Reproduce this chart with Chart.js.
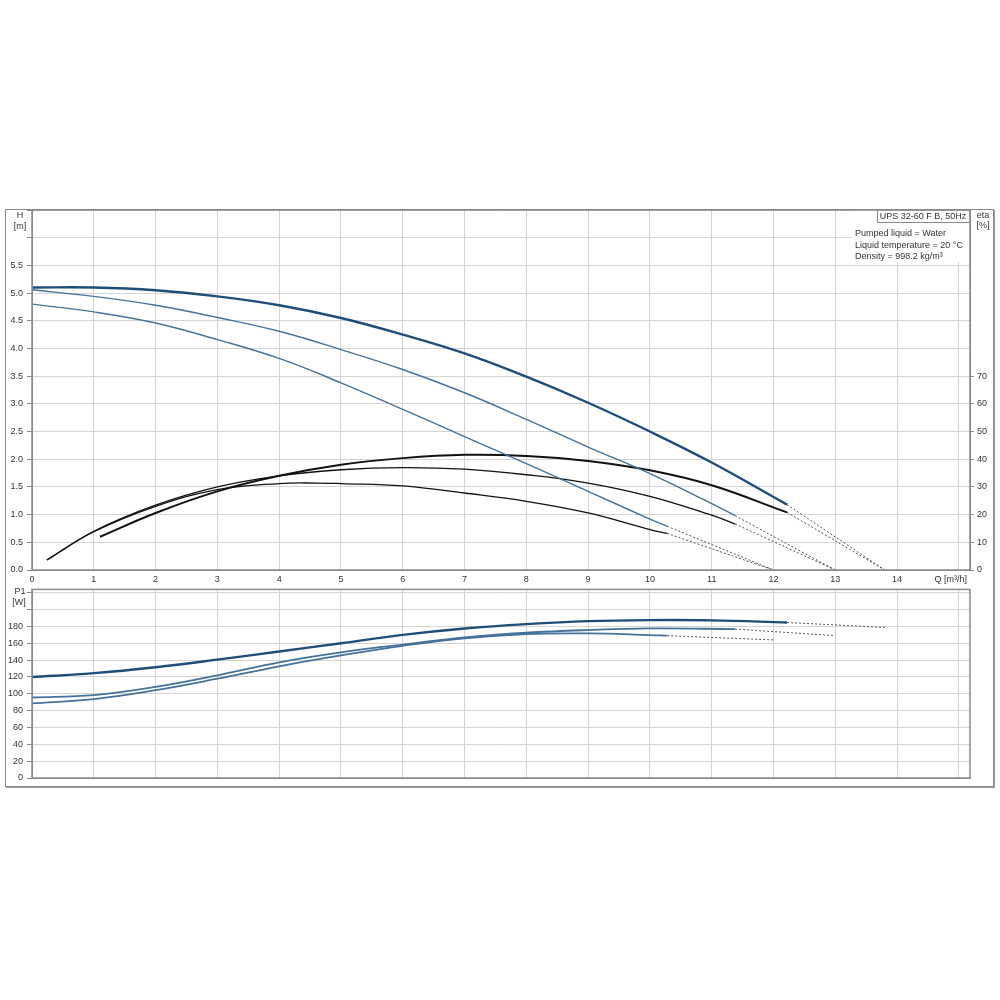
<!DOCTYPE html>
<html>
<head>
<meta charset="utf-8">
<script src="https://cdn.jsdelivr.net/npm/chart.js@4.4.0/dist/chart.umd.min.js"></script>
<style>
  body { margin: 0; background: #fff; }
  #frame { position: absolute; left: 5px; top: 209px; width: 989px; height: 578px; box-sizing: border-box;
           border: 1px solid #8a8a8a; box-shadow: 1px 1px 0 #9a9a9a; }
  #top { position: absolute; left: 0; top: 200px; }
  #bottom { position: absolute; left: 0; top: 580px; }
</style>
</head>
<body>
<div id="frame"></div>
<canvas id="top" width="1000" height="386"></canvas>
<canvas id="bottom" width="1000" height="210"></canvas>
<script>
// flow where each speed's H and eta reach zero (dashed ends)
const qZero = [12, 13, 13.8];

// head H [m], speeds 1..3
const qH1 = [0, 1, 2, 3, 4, 5, 6, 7, 8, 9, 10, 10.28];
const h1 = [4.80, 4.66, 4.46, 4.16, 3.82, 3.38, 2.90, 2.41, 1.92, 1.42, 0.92, 0.79];
const qH2 = [0, 1, 2, 3, 4, 5, 6, 7, 8, 9, 10, 11, 11.38];
const h2 = [5.06, 4.94, 4.78, 4.56, 4.31, 3.98, 3.62, 3.20, 2.72, 2.22, 1.74, 1.20, 0.98];
const qH3 = [0, 1, 2, 3, 4, 5, 6, 7, 8, 9, 10, 11, 12.22];
const h3 = [5.10, 5.10, 5.05, 4.94, 4.78, 4.55, 4.25, 3.91, 3.49, 3.02, 2.50, 1.94, 1.18];

// efficiency eta [%]
const qE1 = [0.24, 1, 2, 3, 4, 4.6, 5, 6, 7, 8, 9, 10, 10.28];
const eta1 = [3.6, 13.8, 23.0, 29, 31.2, 31.4, 31.2, 30.4, 27.8, 24.8, 20.6, 14.6, 13.2];
const qE2 = [0.24, 1, 2, 3, 4, 5, 6, 7, 8, 9, 10, 11, 11.38];
const eta2 = [3.6, 14.0, 23.4, 30, 34, 36.2, 37, 36.4, 34.4, 31.4, 26.6, 19.8, 16.6];
const qE3 = [1.1, 2, 3, 4, 5, 6, 7, 8, 9, 10, 11, 12.22];
const eta3 = [12, 20.6, 28.4, 34, 38, 40.4, 41.6, 41.2, 39.4, 36, 30.6, 20.8];

// power P1 [W]
const qP1 = [0, 1, 2, 3, 4, 5, 6, 7, 8, 9, 10, 10.28];
const p1 = [88.6, 93.7, 104.3, 117.9, 132.7, 145.6, 157, 166, 171, 171.8, 169.8, 169];
const qP2 = [0, 1, 2, 3, 4, 5, 6, 7, 8, 9, 10, 11.38];
const p2 = [95.6, 98.4, 108.1, 121.9, 137.4, 149.2, 158.5, 167, 172.5, 175.7, 177.6, 176.9];
const qP3 = [0, 1, 2, 3, 4, 5, 6, 7, 8, 9, 10, 11, 12.22];
const p3 = [120, 124.5, 131.6, 140.6, 150.3, 160, 170, 177.6, 182.8, 186.3, 187.5, 187.2, 184.7];
// P1 at the end of the dashed part, speeds 1..3
const pZero = [164, 169, 178.8];

const FONT = { family: "'Liberation Sans', Arial, sans-serif", size: 9 };
const GRID = '#d4d4d4';
const AXIS = '#8a8a8a';
const TXT = '#333';

const BLUE_DARK = '#1f4d7a';
const BLUE = '#45729c';
const BLACK = '#111';

function pts(qs, vs) {
    return qs.map((q, i) => ({ x: q, y: vs[i] }));
}
function line(qs, vs, color, width, axis) {
    return { data: pts(qs, vs), borderColor: color, borderWidth: width, yAxisID: axis,
             pointRadius: 0, fill: false, tension: 0.4 };
}
function dash(qs, vs, qEnd, vEnd, axis) {
    const n = qs.length - 1;
    return { data: [{ x: qs[n], y: vs[n] }, { x: qEnd, y: vEnd }], borderColor: '#555', borderWidth: 1,
             borderDash: [2, 2], yAxisID: axis, pointRadius: 0, fill: false };
}

const frameBox = {
    id: 'frameBox',
    afterDraw(chart, args, opts) {
        const ctx = chart.ctx, a = chart.chartArea;
        ctx.save();
        if (opts.info) {
            ctx.fillStyle = '#fff';
            ctx.fillRect(852, a.top, a.right - 852, 52);
        }
        ctx.strokeStyle = AXIS;
        ctx.lineWidth = 1.5;
        ctx.strokeRect(a.left, a.top, a.right - a.left, a.bottom - a.top);
        ctx.fillStyle = TXT;
        ctx.font = '9px ' + FONT.family;
        ctx.textBaseline = 'middle';
        ctx.textAlign = 'center';
        (opts.labels || []).forEach(l => ctx.fillText(l[0], l[1], l[2]));
        if (opts.info) {
            ctx.lineWidth = 1;
            ctx.strokeRect(877.5, a.top, a.right - 877.5, 12.5);
            ctx.fillText('UPS 32-60 F B, 50Hz', 923, 17);
            ctx.textAlign = 'left';
            ctx.fillText('Pumped liquid = Water', 855, 34);
            ctx.fillText('Liquid temperature = 20 °C', 855, 46);
            ctx.fillText('Density = 998.2 kg/m³', 855, 57);
            ctx.textAlign = 'right';
            ctx.fillText('Q [m³/h]', 967, 380);
        }
        ctx.restore();
    }
};

const xScale = (showLabels, height) => ({
    type: 'linear', min: 0, max: 15.18,
    grid: { color: GRID, drawTicks: false },
    border: { color: AXIS },
    ticks: { stepSize: 1, includeBounds: false, display: showLabels, padding: 4, color: TXT, font: FONT,
             maxRotation: 0, callback: v => (v <= 14 ? v : '') },
    afterFit: s => { s.height = height; }
});

new Chart(document.getElementById('top'), {
    type: 'line',
    data: {
        datasets: [
            line(qH3, h3, BLUE_DARK, 2.4, 'y'),
            line(qH2, h2, BLUE, 1.4, 'y'),
            line(qH1, h1, BLUE, 1.4, 'y'),
            line(qE3, eta3, BLACK, 2, 'yEta'),
            line(qE2, eta2, BLACK, 1.3, 'yEta'),
            line(qE1, eta1, BLACK, 1.3, 'yEta'),
            dash(qH3, h3, qZero[2], 0, 'y'),
            dash(qH2, h2, qZero[1], 0, 'y'),
            dash(qH1, h1, qZero[0], 0, 'y'),
            dash(qE3, eta3, qZero[2], 0, 'yEta'),
            dash(qE2, eta2, qZero[1], 0, 'yEta'),
            dash(qE1, eta1, qZero[0], 0, 'yEta')
        ]
    },
    options: {
        responsive: false,
        animation: false,
        layout: { padding: { top: 10, left: 0, right: 0, bottom: 0 }, autoPadding: false },
        plugins: {
            legend: { display: false },
            tooltip: { enabled: false },
            frameBox: { info: true, labels: [['H', 20, 16], ['[m]', 20, 27], ['eta', 983, 16], ['[%]', 983, 26]] }
        },
        scales: {
            x: xScale(true, 16),
            y: {
                type: 'linear', position: 'left', min: 0, max: 6.5,
                grid: { color: GRID, tickLength: 5, tickColor: AXIS },
                border: { color: AXIS },
                ticks: { stepSize: 0.5, padding: 4, color: TXT, font: FONT,
                         callback: v => (v <= 5.5 ? v.toFixed(1) : '') },
                afterFit: s => { s.width = 32; }
            },
            yEta: {
                type: 'linear', position: 'right', min: 0, max: 130,
                grid: { drawOnChartArea: false, tickLength: 4,
                        tickColor: c => (c.tick && c.tick.value <= 70 ? AXIS : 'rgba(0,0,0,0)') },
                border: { color: AXIS },
                ticks: { stepSize: 10, padding: 3, color: TXT, font: FONT,
                         callback: v => (v <= 70 ? v : '') },
                afterFit: s => { s.width = 30; }
            }
        }
    },
    plugins: [frameBox]
});

new Chart(document.getElementById('bottom'), {
    type: 'line',
    data: {
        datasets: [
            line(qP3, p3, BLUE_DARK, 2.4, 'y'),
            line(qP2, p2, BLUE, 1.8, 'y'),
            line(qP1, p1, BLUE, 1.8, 'y'),
            dash(qP3, p3, qZero[2], pZero[2], 'y'),
            dash(qP2, p2, qZero[1], pZero[1], 'y'),
            dash(qP1, p1, qZero[0], pZero[0], 'y')
        ]
    },
    options: {
        responsive: false,
        animation: false,
        layout: { padding: { top: 7, left: 0, right: 30, bottom: 12 }, autoPadding: false },
        plugins: {
            legend: { display: false },
            tooltip: { enabled: false },
            frameBox: { info: false, labels: [['P1', 20, 12], ['[W]', 19, 23]] }
        },
        scales: {
            x: xScale(false, 0),
            y: {
                type: 'linear', position: 'left', min: 0, max: 224,
                grid: { color: GRID, tickLength: 5, tickColor: AXIS },
                border: { color: AXIS },
                ticks: { stepSize: 20, includeBounds: false, padding: 4, color: TXT, font: FONT,
                         callback: v => (v <= 180 ? v : '') },
                afterFit: s => { s.width = 32; }
            }
        }
    },
    plugins: [frameBox]
});
</script>
</body>
</html>
